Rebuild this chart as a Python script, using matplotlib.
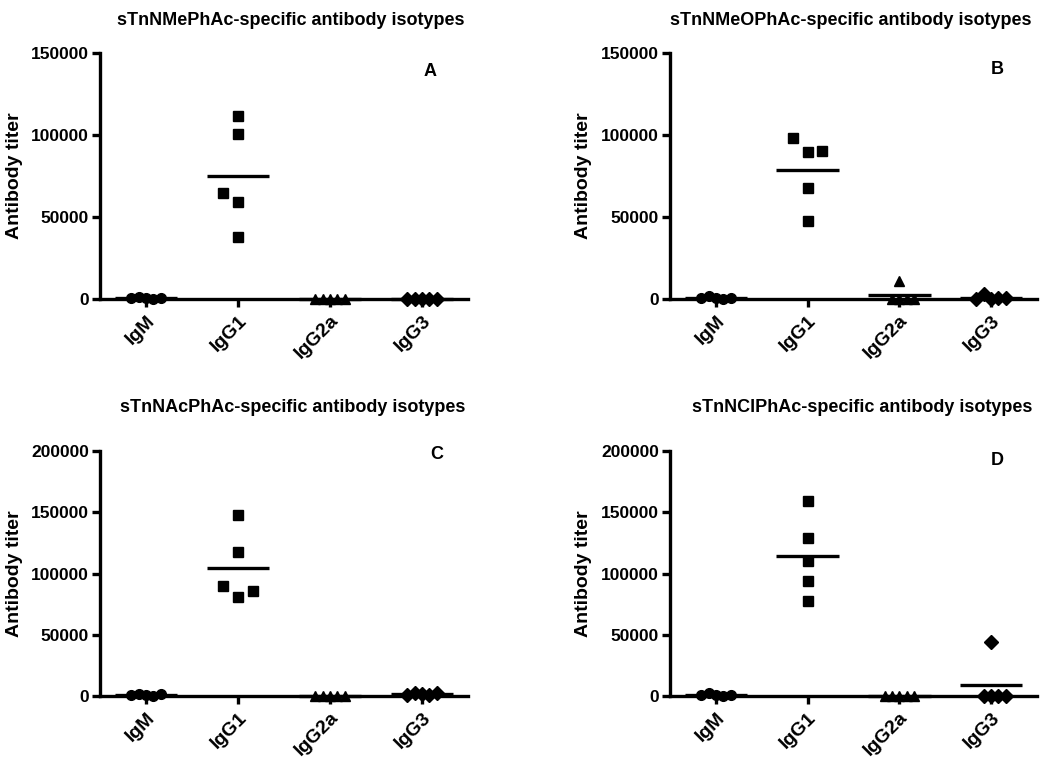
#!/usr/bin/env python3
"""
Antibody isotype titers for the four sTn conjugates (panels A-D),
drawn as GraphPad-style scatter dots with a mean bar per isotype.
"""

import numpy as np
import matplotlib.pyplot as plt

plt.rcParams['font.family'] = ['Liberation Sans', 'DejaVu Sans']
plt.rcParams['font.weight'] = 'bold'

isotypes = ['IgM', 'IgG1', 'IgG2a', 'IgG3']

# Panel A - sTnNMePhAc (one value per mouse)
a_igm = [300, 1500, 200, 600, 400]
a_igg1 = [111600, 100600, 59000, 64400, 38000]
a_igg2a = [0, 0, 0, 0, 0]
a_igg3 = [0, 0, 0, 0, 0]

# Panel B - sTnNMeOPhAc
b_igm = [300, 1800, 200, 500, 400]
b_igg1 = [89400, 98000, 90000, 67500, 47800]
b_igg2a = [11000, 0, 0, 0, 0]
b_igg3 = [200, 3000, 400, 300, 100]

# Panel C - sTnNAcPhAc
c_igm = [500, 2000, 300, 1800, 600]
c_igg1 = [80600, 89500, 85500, 117300, 148000]
c_igg2a = [0, 0, 0, 0, 0]
c_igg3 = [1500, 2500, 500, 2800, 800]

# Panel D - sTnNClPhAc
d_igm = [400, 2200, 300, 600, 500]
d_igg1 = [158900, 129000, 110500, 93600, 77800]
d_igg2a = [0, 0, 0, 0, 0]
d_igg3 = [43800, 0, 0, 0, 0]

markers = ['o', 's', '^', 'D']


def swarm_offsets(values, min_gap):
    """Spread points that would overlap sideways (simple beeswarm)"""
    slots = []
    placed = []
    for v in values:
        for s in [0, -1, 1, 2, -2, 3, -3]:
            if all(ps != s or abs(v - pv) >= min_gap for pv, ps in placed):
                slots.append(s)
                placed.append((v, s))
                break
    widest = max(abs(s) for s in slots)
    step = 0.16 / max(1, widest)
    return np.array(slots) * step


def draw_panel(ax, groups, ymax, title, letter, title_xy, letter_xy, ylab_x):
    min_gap = ymax * 15.0 / 246.0
    for i, vals in enumerate(groups):
        vals = np.array(vals, dtype=float)
        xs = i + swarm_offsets(vals, min_gap)
        ax.plot(xs, vals, linestyle='none', marker=markers[i], markersize=7,
                color='black', clip_on=False, zorder=3)
        m = vals.mean()
        ax.plot([i - 0.34, i + 0.34], [m, m], color='black', linewidth=2.4,
                solid_capstyle='butt', clip_on=False, zorder=2)

    ax.set_xlim(-0.5, 3.5)
    ax.set_ylim(0, ymax)
    yt = np.arange(0, ymax + 1, 50000)
    ax.set_yticks(yt)
    ax.set_yticklabels([f'{int(t)}' for t in yt], fontsize=12.5, fontweight='bold')
    ax.set_xticks(range(len(isotypes)))
    ax.set_xticklabels(isotypes, rotation=45, ha='right', va='top',
                       rotation_mode='anchor', fontsize=14, fontweight='bold')

    for side in ['top', 'right']:
        ax.spines[side].set_visible(False)
    for side in ['left', 'bottom']:
        ax.spines[side].set_linewidth(2.4)
    ax.tick_params(axis='y', length=6, width=2.4, pad=2)
    ax.tick_params(axis='x', length=5.5, width=2.4, pad=4)

    ax.set_ylabel('Antibody titer', fontsize=14, fontweight='bold')
    ax.yaxis.set_label_coords(ylab_x, 0.5)

    ax.text(title_xy[0], title_xy[1], title, transform=ax.transAxes,
            ha='center', va='center', fontsize=13, fontweight='bold')
    ax.text(letter_xy[0], letter_xy[1], letter, transform=ax.transAxes,
            ha='center', va='center', fontsize=13, fontweight='bold')


fig = plt.figure(figsize=(10.5, 7.66), dpi=100)

ax_a = fig.add_axes([0.0952, 0.6097, 0.3505, 0.3211])
ax_b = fig.add_axes([0.6381, 0.6097, 0.3495, 0.3211])
ax_c = fig.add_axes([0.0952, 0.0914, 0.3505, 0.3198])
ax_d = fig.add_axes([0.6381, 0.0914, 0.3495, 0.3198])

draw_panel(ax_a, [a_igm, a_igg1, a_igg2a, a_igg3], 150000,
           'sTnNMePhAc-specific antibody isotypes', 'A',
           (0.519, 1.134), (0.897, 0.923), -0.209)
draw_panel(ax_b, [b_igm, b_igg1, b_igg2a, b_igg3], 150000,
           'sTnNMeOPhAc-specific antibody isotypes', 'B',
           (0.493, 1.134), (0.891, 0.931), -0.212)
draw_panel(ax_c, [c_igm, c_igg1, c_igg2a, c_igg3], 200000,
           'sTnNAcPhAc-specific antibody isotypes', 'C',
           (0.524, 1.176), (0.916, 0.984), -0.209)
draw_panel(ax_d, [d_igm, d_igg1, d_igg2a, d_igg3], 200000,
           'sTnNClPhAc-specific antibody isotypes', 'D',
           (0.525, 1.176), (0.891, 0.963), -0.212)

fig.savefig('out.png', dpi=100)
